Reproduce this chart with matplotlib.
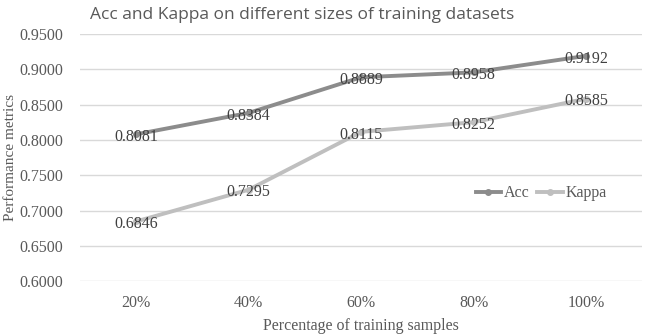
import matplotlib
matplotlib.use("Agg")
import matplotlib.pyplot as plt

categories = ["20%", "40%", "60%", "80%", "100%"]
acc = [0.8081, 0.8384, 0.8889, 0.8958, 0.9192]
kappa = [0.6846, 0.7295, 0.8115, 0.8252, 0.8585]
yticks = [0.60, 0.65, 0.70, 0.75, 0.80, 0.85, 0.90, 0.95]

plt.rcParams["font.family"] = ["Liberation Serif", "DejaVu Serif"]

fig = plt.figure(figsize=(6.46, 3.35), dpi=100)
ax = fig.add_axes([0.124, 0.161, 0.87, 0.737])

x = list(range(len(categories)))
ax.plot(x, acc, color="#8c8c8c", lw=2.8, marker="o", ms=4, label="Acc", zorder=3)
ax.plot(x, kappa, color="#bfbfbf", lw=2.8, marker="o", ms=4, label="Kappa", zorder=3)

for xi, v in zip(x, acc):
    ax.annotate(f"{v:.4f}", (xi, v), xytext=(0, -2), textcoords="offset points",
                ha="center", va="center", fontsize=11.5, color="#404040", zorder=4)
for xi, v in zip(x, kappa):
    ax.annotate(f"{v:.4f}", (xi, v), xytext=(0, -2), textcoords="offset points",
                ha="center", va="center", fontsize=11.5, color="#404040", zorder=4)

ax.set_xlim(-0.5, len(categories) - 0.5)
ax.set_ylim(0.6, 0.95)
ax.set_yticks(yticks)
ax.set_yticklabels([f"{t:.4f}" for t in yticks])
ax.set_xticks(x)
ax.set_xticklabels(categories)
ax.tick_params(axis="both", length=0, labelsize=11.5, labelcolor="#595959")
ax.tick_params(axis="y", pad=12)
ax.tick_params(axis="x", pad=10)
ax.grid(axis="y", color="#d9d9d9", lw=1)
ax.set_axisbelow(True)
for s in ax.spines.values():
    s.set_visible(False)

ax.set_xlabel("Percentage of training samples", fontsize=11.5, color="#595959", labelpad=5)
fig.text(0.016, 0.53, "Performance metrics", rotation=90, ha="center", va="center",
         fontsize=11, color="#595959")
fig.text(0.467, 0.955, "Acc and Kappa on different sizes of training datasets",
         ha="center", va="center", fontsize=12.5, color="#595959", family="Open Sans")

ax.legend(loc="center", bbox_to_anchor=(0.82, 0.356), ncol=2, frameon=False,
          fontsize=11.5, labelcolor="#595959", handlelength=1.6, columnspacing=0.5,
          handletextpad=0.15)

fig.savefig("out.png", dpi=100)
